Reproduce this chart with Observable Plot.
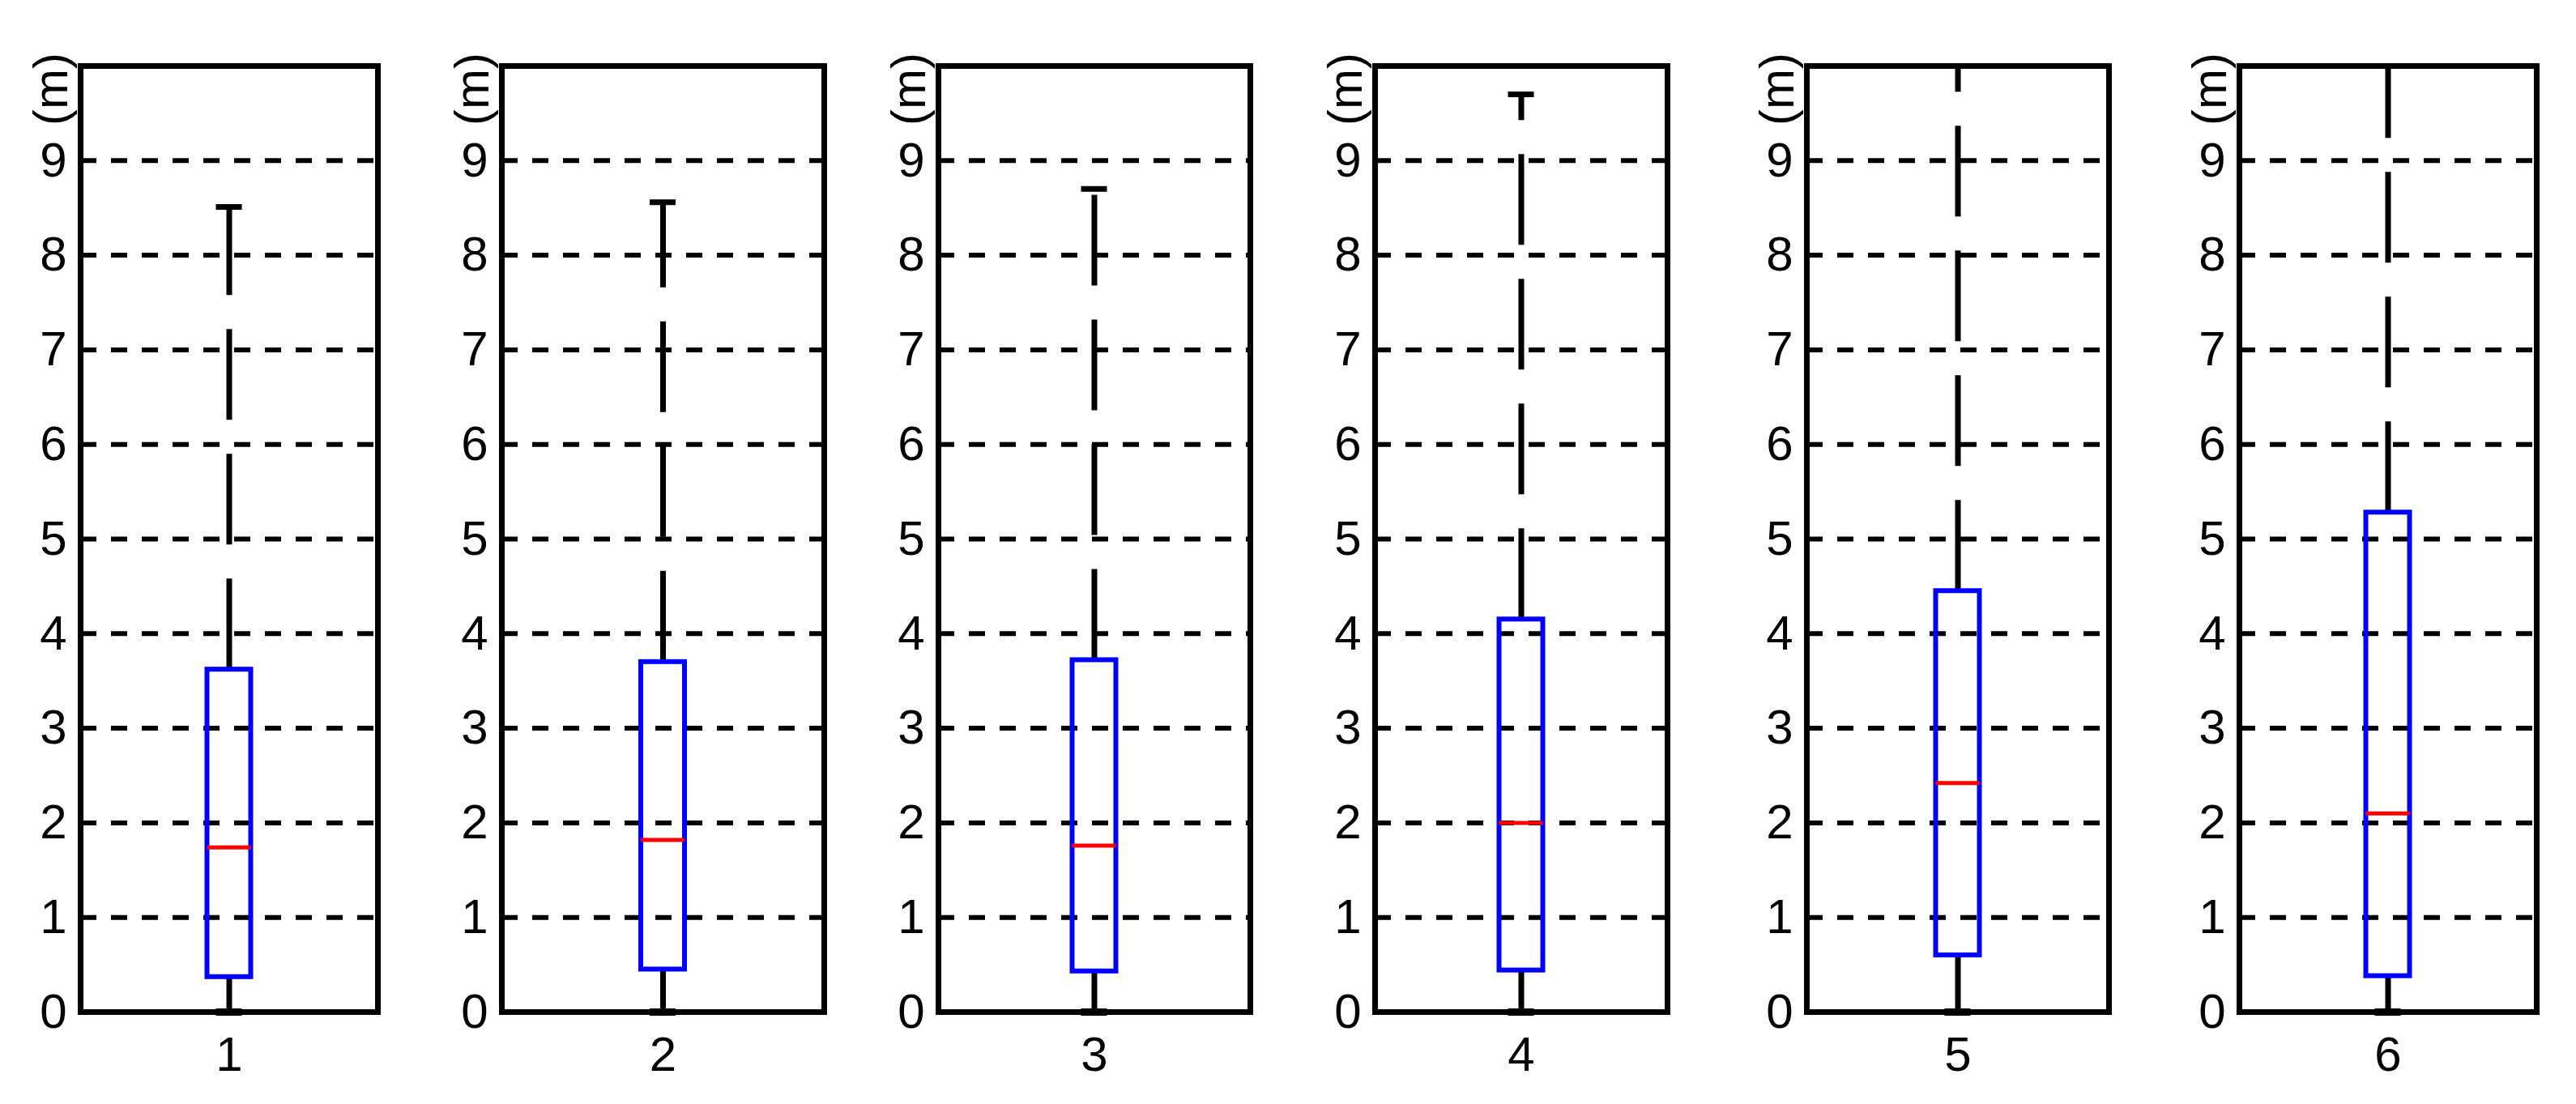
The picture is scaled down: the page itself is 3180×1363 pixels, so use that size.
<!DOCTYPE html>
<html>
<head>
<meta charset="utf-8">
<script src="https://cdn.jsdelivr.net/npm/d3@7"></script>
<script src="https://cdn.jsdelivr.net/npm/@observablehq/plot@0.6"></script>
<style>
  html, body { margin: 0; padding: 0; background: #ffffff; }
  #chart { position: relative; width: 3180px; height: 1363px; overflow: hidden; background: #ffffff; }
  #chart svg { position: absolute; top: 0; }
</style>
</head>
<body>
<div id="chart"></div>
<script>
// ---- data ----
const panels = ["1", "2", "3", "4", "5", "6"];
const q1Values = [0.37, 0.45, 0.43, 0.44, 0.60, 0.38];
const medianValues = [1.74, 1.82, 1.76, 2.00, 2.42, 2.10];
const q3Values = [3.62, 3.70, 3.72, 4.15, 4.45, 5.28];
const upperValues = [8.51, 8.56, 8.70, 9.70, 10, 10];
const lowerValues = [0, 0, 0, 0, 0, 0];
const yTicks = [0, 1, 2, 3, 4, 5, 6, 7, 8, 9];
const yLabel = "(m)";

// ---- layout ----
const panelLeft = [99, 619, 1158, 1697, 2230, 2764];
const panelRight = [466, 1017, 1543, 2058, 2603, 3131];
const ML = 99, MR = 30, MT = 81, MB = 114, H = 1363;
const font = "'Liberation Sans', Arial, Helvetica, sans-serif";

const chart = document.getElementById("chart");

panels.forEach((p, i) => {
  const row = {panel: p, q1: q1Values[i], median: medianValues[i], q3: q3Values[i], upper: upperValues[i], lower: lowerValues[i]};
  const innerW = panelRight[i] - panelLeft[i];
  const boxInset = (innerW - 54) / 2;
  const capInset = (innerW - 32) / 2;
  const capRows = [row].filter(d => d.upper < 10);

  const svg = Plot.plot({
    width: innerW + ML + MR,
    height: H,
    marginLeft: ML,
    marginRight: MR,
    marginTop: MT,
    marginBottom: MB,
    style: {fontFamily: font, fontSize: "60px", color: "#000", background: "transparent", overflow: "visible"},
    x: {type: "band", domain: [p], padding: 0, axis: null},
    y: {domain: [0, 10], axis: null},
    marks: [
      Plot.ruleY(yTicks.filter(t => t > 0), {stroke: "#000", strokeWidth: 6, strokeDasharray: "20,18"}),
      Plot.axisY(yTicks, {tickSize: 0, tickPadding: 17, fontSize: 60, label: null, tickFormat: d => String(d)}),
      Plot.axisX([p], {tickSize: 0, tickPadding: 30, fontSize: 60, label: null}),
      Plot.ruleX([row], {x: "panel", y1: "q3", y2: "upper", stroke: "#000", strokeWidth: 7, strokeDasharray: "112,42"}),
      Plot.ruleX([row], {x: "panel", y1: "q1", y2: "lower", stroke: "#000", strokeWidth: 7}),
      Plot.barY([row], {x: "panel", y1: "q1", y2: "q3", fill: "none", stroke: "#0000ff", strokeWidth: 6, insetLeft: boxInset, insetRight: boxInset}),
      Plot.tickY([row], {x: "panel", y: "median", stroke: "#ff0000", strokeWidth: 5, insetLeft: boxInset, insetRight: boxInset}),
      Plot.tickY(capRows, {x: "panel", y: "upper", stroke: "#000", strokeWidth: 7, insetLeft: capInset, insetRight: capInset}),
      Plot.tickY([row], {x: "panel", y: "lower", stroke: "#000", strokeWidth: 9, insetLeft: capInset, insetRight: capInset}),
      Plot.frame({stroke: "#000", strokeWidth: 7})
    ]
  });
  // rotated y-axis unit label at the top of each axis
  d3.select(svg).append("text")
    .attr("transform", `translate(${ML - 37},${MT + 29}) rotate(-90)`)
    .attr("text-anchor", "middle")
    .attr("dominant-baseline", "central")
    .attr("font-size", 60)
    .attr("font-family", font)
    .attr("fill", "#000")
    .text(yLabel);
  svg.style.left = (panelLeft[i] - ML) + "px";
  chart.appendChild(svg);
});
</script>
</body>
</html>
